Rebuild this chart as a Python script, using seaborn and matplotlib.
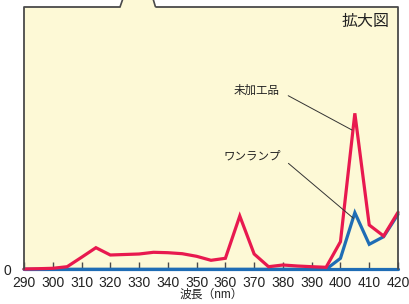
import numpy as np
import pandas as pd
import matplotlib
matplotlib.use("Agg")
import matplotlib.pyplot as plt
from matplotlib.patches import Polygon
import seaborn as sns

# Data (arbitrary units)
wavelengths = [290, 295, 300, 305, 310, 315, 320, 325, 330, 335, 340, 345, 350,
               355, 360, 365, 370, 375, 380, 385, 390, 395, 400, 405, 410, 415, 420]
raw_product = [0.3, 0.6, 1.0, 2.6, 12.0, 21.6, 14.3, 14.8, 15.3, 17.0, 16.6, 15.6, 13.0,
               9.0, 11.0, 53.3, 15.3, 2.6, 4.3, 3.3, 2.6, 2.0, 27.6, 156.0, 44.3, 33.3, 57.0]
one_lamp = [0, 0, 0, 0, 0, 0, 0, 0, 0, 0, 0, 0, 0,
            0, 0, 0, 0, 0, 0, 0, 0, 0, 11.0, 56.6, 25.0, 32.6, 55.0]
series_names = ["ワンランプ", "未加工品"]
xticks = list(range(290, 421, 10))

df = pd.DataFrame({
    "wl": wavelengths * 2,
    "val": one_lamp + raw_product,
    "series": [series_names[0]] * len(wavelengths) + [series_names[1]] * len(wavelengths),
})

sns.set_theme(style="white")
plt.rcParams['font.family'] = ['Liberation Sans', 'Noto Sans CJK JP', 'DejaVu Sans']

BG = "#FDF9D6"
EDGE = "#4a4a4a"
RED = "#E8194F"
BLUE = "#1F6DB5"
TXT = "#222222"

fig = plt.figure(figsize=(4.09, 3.04), dpi=100)
ax = fig.add_axes([24 / 409, 34.7 / 304, 374 / 409, 262.3 / 304])
ax.set_facecolor(BG)

sns.lineplot(data=df, x="wl", y="val", hue="series", hue_order=series_names,
             palette=[BLUE, RED], linewidth=2.3, legend=False, ax=ax)
for ln in ax.lines:
    ln.set_clip_on(False)
    ln.set_solid_joinstyle("miter")

ax.set_xlim(290, 420)
ax.set_ylim(0, 262.3)

# frame with the magnifier tab at the top
for s in ax.spines.values():
    s.set_visible(False)
ytop = 1.0
ytab = 1.0 + 10 / 262.3
x1 = (120 - 24) / 374
x2 = (123.5 - 24) / 374
x3 = (152.5 - 24) / 374
x4 = (155.5 - 24) / 374
tab = Polygon([(x1, ytop), (x2, ytab), (x3, ytab), (x4, ytop)], closed=False,
              facecolor=BG, edgecolor=EDGE, linewidth=1.2, transform=ax.transAxes,
              clip_on=False, zorder=0.5)
ax.add_patch(tab)
ax.plot([0, 0, x1], [0, ytop, ytop], color=EDGE, lw=1.3, transform=ax.transAxes, clip_on=False)
ax.plot([x4, 1, 1], [ytop, ytop, 0], color=EDGE, lw=1.3, transform=ax.transAxes, clip_on=False)
ax.plot([0, 1], [0, 0], color=BLUE, lw=2.3, transform=ax.transAxes, clip_on=False, zorder=1)

# ticks
ax.set_xticks(xticks)
ax.set_xticklabels([str(t) for t in xticks])
ax.tick_params(axis="x", direction="in", length=5, width=1, color=EDGE, pad=4.5,
               labelsize=10, labelcolor=TXT, bottom=True)
ax.set_yticks([0])
ax.set_yticklabels(["0"])
ax.tick_params(axis="y", length=0, pad=9, labelsize=10, labelcolor=TXT)
ax.set_xlabel("波長（nm）", fontsize=8.5, color=TXT, labelpad=-0.5)
ax.set_ylabel("")

ax.text(0.976, 0.943, "拡大図", transform=ax.transAxes, ha="right", va="center",
        fontsize=11.5, color=TXT)

ax.annotate("未加工品", xy=(404.0, 139.3), xytext=(379.0, 178.0), ha="right", va="center",
            fontsize=8.3, color=TXT,
            arrowprops=dict(arrowstyle="-", color="#333333", lw=0.7,
                            relpos=(1, 0.5), shrinkA=4, shrinkB=0))
ax.annotate("ワンランプ", xy=(404.5, 51.0), xytext=(379.3, 112.3), ha="right", va="center",
            fontsize=8.3, color=TXT,
            arrowprops=dict(arrowstyle="-", color="#333333", lw=0.7,
                            relpos=(1, 0.5), shrinkA=4, shrinkB=0))

fig.savefig("out.png", dpi=100, facecolor="white")
